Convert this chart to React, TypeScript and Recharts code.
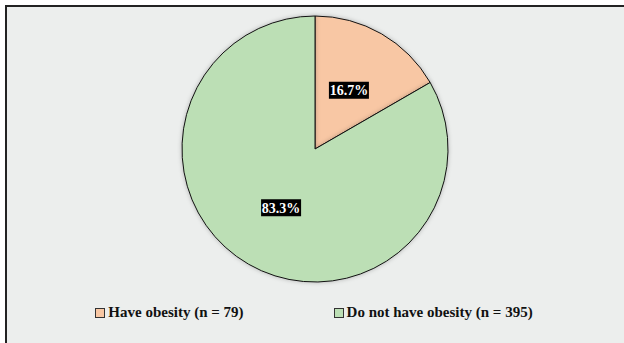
import { PieChart, Pie, Cell, Legend } from 'recharts';

const groups = ['Have obesity', 'Do not have obesity'];
const counts = [79, 395];
const colors = ['#f8c7a4', '#bcdfb5'];

const data = groups.map((name, i) => ({
  name: `${name} (n = ${counts[i]})`,
  value: counts[i],
  color: colors[i],
}));

const total = counts.reduce((a, b) => a + b, 0);
const RAD = Math.PI / 180;
const font = "'Liberation Serif', 'Times New Roman', Times, serif";

const renderLabel = (props: any) => {
  const { cx, cy, midAngle, outerRadius, value } = props;
  const r = outerRadius * 0.51;
  const x = cx + r * Math.cos(-midAngle * RAD);
  const y = cy + r * Math.sin(-midAngle * RAD);
  const text = `${((value / total) * 100).toFixed(1)}%`;
  const w = 40;
  const h = 17;
  return (
    <g>
      <rect x={x - w / 2} y={y - h / 2} width={w} height={h} fill="#000" />
      <text
        x={x}
        y={y + 5}
        textAnchor="middle"
        fill="#fff"
        style={{ fontFamily: font, fontWeight: 700, fontSize: 14 }}
      >
        {text}
      </text>
    </g>
  );
};

const renderLegend = () => (
  <div
    style={{
      display: 'flex',
      justifyContent: 'center',
      gap: 90,
      paddingLeft: 4,
      fontFamily: font,
      fontWeight: 700,
      fontSize: 15,
      color: '#111',
    }}
  >
    {data.map((d) => (
      <div key={d.name} style={{ display: 'flex', alignItems: 'center' }}>
        <span
          style={{
            display: 'inline-block',
            width: 8,
            height: 8,
            background: d.color,
            border: '1px solid #333',
            marginRight: 3,
          }}
        />
        <span>{d.name}</span>
      </div>
    ))}
  </div>
);

export default function App() {
  return (
    <div style={{ position: 'absolute', left: 0, top: 0, width: 624, height: 343, background: '#fff', overflow: 'hidden' }}>
      <div
        style={{
          position: 'absolute',
          left: 5,
          top: 5,
          width: 630,
          height: 350,
          background: '#eceeed',
          borderTop: '2px solid #222',
          borderLeft: '2px solid #222',
        }}
      />
      <div style={{ position: 'absolute', left: 0, top: 0 }}>
        <style>{`.pie-shadow .recharts-pie-sector path { filter: drop-shadow(0 0 2px rgba(0,0,0,0.25)); }`}</style>
        <PieChart
          width={624}
          height={343}
          className="pie-shadow"
          margin={{ top: 0, right: 0, bottom: 0, left: 0 }}
        >
          <Pie
            data={data}
            dataKey="value"
            nameKey="name"
            cx={315}
            cy={149}
            outerRadius={133}
            startAngle={90}
            endAngle={-270}
            stroke="#111"
            strokeWidth={1}
            labelLine={false}
            label={renderLabel}
            isAnimationActive={false}
          >
            {data.map((entry, index) => (
              <Cell key={`cell-${index}`} fill={entry.color} />
            ))}
          </Pie>
          <Legend
            content={renderLegend}
            wrapperStyle={{ position: 'absolute', top: 304, left: 0, width: 624 }}
          />
        </PieChart>
      </div>
    </div>
  );
}
